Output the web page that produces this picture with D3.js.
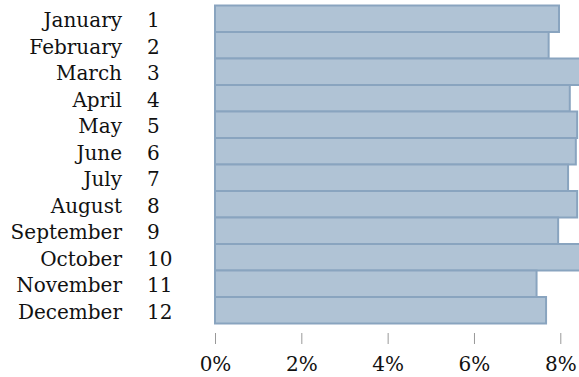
<!DOCTYPE html>
<html><head><meta charset="utf-8">
<script src="https://cdn.jsdelivr.net/npm/d3@7"></script>
<style>
html,body{margin:0;padding:0;background:#fff;overflow:hidden}
svg{display:block}
text{font-family:"DejaVu Serif",serif;fill:#111}
</style></head>
<body>
<script>
const months = ["January","February","March","April","May","June","July","August","September","October","November","December"];
const monthNumbers = ["1","2","3","4","5","6","7","8","9","10","11","12"];
const shares = [7.97,7.73,8.8,8.22,8.39,8.36,8.18,8.39,7.95,8.9,7.45,7.67];
const tickValues = [0,2,4,6,8];

const W = 579, H = 377;
const svg = d3.select("body").append("svg").attr("width", W).attr("height", H);

const x = d3.scaleLinear().domain([0, 8]).range([215, 560.3]);
const y = d3.scaleBand().domain(months).range([5.5, 323.5]).padding(0);

svg.append("g").selectAll("rect").data(months).join("rect")
  .attr("x", x(0))
  .attr("y", d => y(d))
  .attr("width", (d,i) => x(shares[i]) - x(0))
  .attr("height", y.bandwidth())
  .attr("fill", "#b0c3d5")
  .attr("stroke", "#89a4bf")
  .attr("stroke-width", 2);

const fs = 20;
svg.append("g").selectAll("text").data(months).join("text")
  .attr("x", 122).attr("y", d => y(d) + y.bandwidth()/2 + 8.3)
  .attr("text-anchor", "end").style("font-size", fs + "px").text(d => d);
svg.append("g").selectAll("text").data(months).join("text")
  .attr("x", 147).attr("y", d => y(d) + y.bandwidth()/2 + 8.3)
  .attr("text-anchor", "start").style("font-size", fs + "px").text((d,i) => monthNumbers[i]);

const axis = d3.axisBottom(x).tickValues(tickValues).tickFormat(d => d + "%").tickSize(11).tickPadding(13);
const g = svg.append("g").attr("transform", "translate(0,333)").call(axis);
g.select(".domain").remove();
g.selectAll(".tick line").attr("stroke", "#999").attr("stroke-width", 1);
g.selectAll(".tick text").style("font-size", fs + "px").style("font-family", '"DejaVu Serif",serif').attr("fill", "#111");
</script>
</body></html>
